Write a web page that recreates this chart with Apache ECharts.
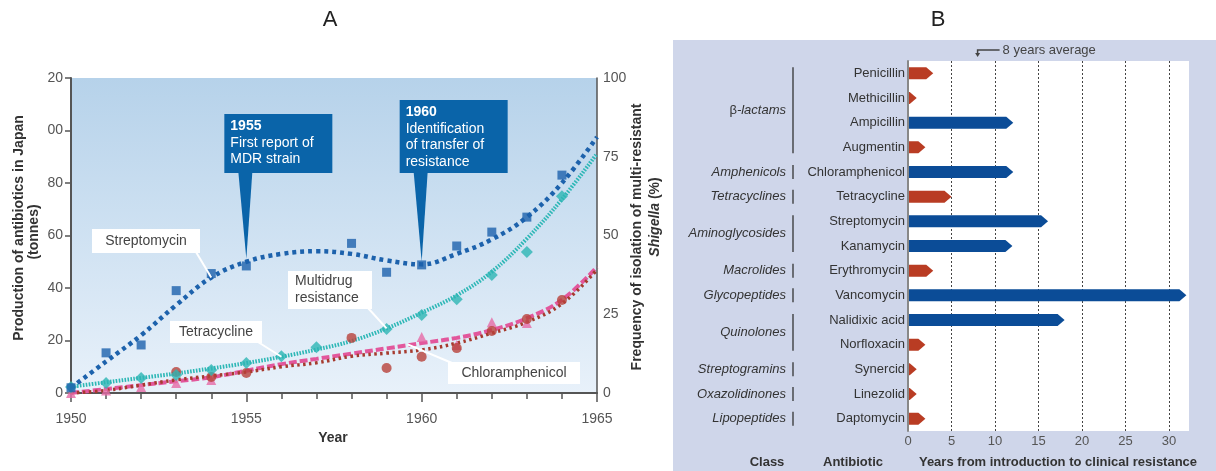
<!DOCTYPE html>
<html><head><meta charset="utf-8">
<script src="https://cdn.jsdelivr.net/npm/echarts@6/dist/echarts.min.js"></script>
<style>html,body{margin:0;padding:0;background:#fff}#c{width:1216px;height:471px}</style>
</head><body><div id="c"></div>
<script>
// ---------- Panel A data ----------
const years = [1950,1951,1952,1953,1954,1955,1956,1957,1958,1959,1960,1961,1962,1963,1964,1965];
const leftTickLabels = ['0','20','40','60','80','00','20'];
const rightTickLabels = ['0','25','50','75','100'];
// Streptomycin production (tonnes)
const strepPts = [2,15.3,18.3,39,45.5,48.4,null,null,57,46,48.8,56,61.3,67,83,null];
const strepFit = [2,12,22,33.5,44,50,53,54,53,50.5,49,53,58.5,67,80,97.5];
// Multidrug resistance (% of Shigella isolates)
const mdrPts = [1.9,3.2,4.8,5.7,7.3,9.5,11.7,14.5,null,20.3,24.8,29.8,37.5,44.8,62.5,null];
const mdrFit = [2,3.4,4.8,6.2,7.8,9.5,11.5,13.8,16.5,20.5,25.5,31,38.5,49,61.5,76];
// Tetracycline production (tonnes)
const tetraPts = [0,1,2.3,3.8,5,null,null,null,null,null,21.3,18.3,27,26.7,null,null];
const tetraFit = [0,1.5,3,4.5,6,8.5,11,13,15,17,19,21,24,28.5,35.5,48];
// Chloramphenicol production (tonnes)
const chlorPts = [null,null,null,8,6.1,7.6,null,null,21,9.5,13.8,17.1,23.6,28.2,35.4,null];
const chlorFit = [0,1,3,5,6.5,8,10,11.5,14,15.2,16.4,19,22.8,27,34,47];
const events = [{year:1955, head:'1955', lines:['First report of','MDR strain']},
                {year:1960, head:'1960', lines:['Identification','of transfer of','resistance']}];

// ---------- Panel B data ----------
const antibiotics = ['Penicillin','Methicillin','Ampicillin','Augmentin','Chloramphenicol','Tetracycline',
  'Streptomycin','Kanamycin','Erythromycin','Vancomycin','Nalidixic acid','Norfloxacin','Synercid','Linezolid','Daptomycin'];
const yearsToResistance = [2.9,1.0,12.1,2.0,12.1,5.0,16.1,12.0,2.9,32.0,18.0,2.0,1.0,1.0,2.0];
const classNames = ['β-lactams','Amphenicols','Tetracyclines','Aminoglycosides','Macrolides','Glycopeptides','Quinolones','Streptogramins','Oxazolidinones','Lipopeptides'];
const classFirst = [0,4,5,6,8,9,10,12,13,14];
const classLast  = [3,4,5,7,8,9,11,12,13,14];
const averageYears = 8;
const xTicksB = [0,5,10,15,20,25,30];

const FONT = '"Liberation Sans", Arial, Helvetica, sans-serif';
const pair = arr => years.map((y,i)=> arr[i]==null ? null : [y, arr[i]]).filter(Boolean);

const chart = echarts.init(document.getElementById('c'));

const option = {
  animation:false,
  textStyle:{fontFamily:FONT},
  grid:[
    {left:71, right:619, top:78, height:315, show:true, borderWidth:0,
     backgroundColor:{type:'linear',x:0,y:0,x2:0,y2:1,colorStops:[{offset:0,color:'#b6d2ea'},{offset:1,color:'#e8f1fa'}]}},
    {left:908, right:27, top:61, height:370, show:true, borderWidth:0, backgroundColor:'#ffffff'}
  ],
  xAxis:[
    {type:'value', gridIndex:0, min:1950, max:1965, interval:5,
     axisLine:{show:true, lineStyle:{color:'#555', width:2}},
     axisTick:{show:true, length:9, lineStyle:{color:'#555', width:1.5}},
     minorTick:{show:true, splitNumber:5, length:6, lineStyle:{color:'#555', width:1.5}},
     splitLine:{show:false},
     axisLabel:{fontSize:14, color:'#555', margin:19, fontFamily:FONT, formatter:v=>String(v)}},
    {type:'value', gridIndex:1, min:0, max:32.3, interval:5,
     axisLine:{show:false}, axisTick:{show:false},
     splitLine:{show:true, showMinLine:false, showMaxLine:false, lineStyle:{color:'#444', width:1, type:[2,2]}},
     axisLabel:{fontSize:13, color:'#555', margin:4, fontFamily:FONT,
       formatter: v => xTicksB.includes(v) ? String(v) : ''}}
  ],
  yAxis:[
    {type:'value', gridIndex:0, min:0, max:120, interval:20, position:'left',
     axisLine:{show:true, lineStyle:{color:'#555', width:2}},
     axisTick:{show:true, length:6, lineStyle:{color:'#555', width:1.5}},
     splitLine:{show:false},
     axisLabel:{fontSize:14, color:'#555', margin:8, fontFamily:FONT,
       formatter:(v)=> leftTickLabels[Math.round(v/20)]}},
    {type:'value', gridIndex:0, min:0, max:100, interval:25, position:'right',
     axisLine:{show:true, lineStyle:{color:'#555', width:1.5}},
     axisTick:{show:false},
     splitLine:{show:false},
     axisLabel:{fontSize:14, color:'#555', margin:6, fontFamily:FONT,
       formatter:(v)=> rightTickLabels[Math.round(v/25)]}},
    {type:'category', gridIndex:1, data:antibiotics, inverse:true,
     axisLine:{show:true, lineStyle:{color:'#888', width:2}},
     axisTick:{show:false}, splitLine:{show:false},
     axisLabel:{fontSize:13, color:'#333', margin:3, fontFamily:FONT}}
  ],
  series:[
    {type:'line', name:'Tetracycline fit', xAxisIndex:0, yAxisIndex:0, data:pair(tetraFit), smooth:0.4, symbol:'none',
     lineStyle:{color:'#e2579c', width:4, type:[8,3]}, z:2},
    {type:'line', name:'Chloramphenicol fit', xAxisIndex:0, yAxisIndex:0, data:pair(chlorFit), smooth:0.4, symbol:'none',
     lineStyle:{color:'#a63a2e', width:3.5, type:[2.5,3.5]}, z:3},
    {type:'line', name:'Multidrug fit', xAxisIndex:0, yAxisIndex:1, data:pair(mdrFit), smooth:0.4, symbol:'none',
     lineStyle:{color:'#2db7b6', width:4, type:[1.6,1.4]}, z:3},
    {type:'line', name:'Streptomycin fit', xAxisIndex:0, yAxisIndex:0, data:pair(strepFit), smooth:0.4, symbol:'none',
     lineStyle:{color:'#1d62ac', width:4.5, type:[4,4]}, z:3},
    {type:'scatter', name:'Tetracycline', xAxisIndex:0, yAxisIndex:0, data:pair(tetraPts), symbol:'triangle', symbolSize:10,
     itemStyle:{color:'#e66aa6'}, z:4},
    {type:'scatter', name:'Chloramphenicol', xAxisIndex:0, yAxisIndex:0, data:pair(chlorPts), symbol:'circle', symbolSize:10,
     itemStyle:{color:'#b8413a'}, z:4},
    {type:'scatter', name:'Multidrug resistance', xAxisIndex:0, yAxisIndex:1, data:pair(mdrPts), symbol:'diamond', symbolSize:12,
     itemStyle:{color:'#2db5b4'}, z:4},
    {type:'scatter', name:'Streptomycin', xAxisIndex:0, yAxisIndex:0, data:pair(strepPts), symbol:'rect', symbolSize:9,
     itemStyle:{color:'#1d62ac'}, z:4},
    {type:'custom', name:'Years to resistance', xAxisIndex:1, yAxisIndex:2,
     data: yearsToResistance.map((v,i)=>[i,v]), encode:{x:1, y:0},
     renderItem:(params, api)=>{
       const idx = api.value(0), v = api.value(1);
       const p0 = api.coord([0, idx]), p1 = api.coord([v, idx]);
       const h = 12, tip = Math.min(7, p1[0]-p0[0]), y = p0[1];
       return {type:'polygon', shape:{points:[[p0[0]+1,y-h/2],[p1[0]-tip,y-h/2],[p1[0],y],[p1[0]-tip,y+h/2],[p0[0]+1,y+h/2]]},
         style:{fill: v > averageYears ? '#0b4c97' : '#b93c23'}};
     }, z:3}
  ]
};
chart.setOption(option);

// ---------- annotations anchored to data through convertToPixel ----------
const g = [];
const txt = (x,y,text,o={}) => g.push({type:'text', x, y, silent:true, z:o.z||20, rotation:o.rot||0,
  style:Object.assign({text, font:o.font||('14px '+FONT), fill:o.fill||'#333', align:o.align||'left', verticalAlign:o.va||'middle'}, o.style||{})});
const rect = (x,y,w,h,fill,z) => g.push({type:'rect', silent:true, z:z||10, shape:{x,y,width:w,height:h}, style:{fill}});
const line = (x1,y1,x2,y2,stroke,w,z) => g.push({type:'line', silent:true, z:z||10, shape:{x1,y1,x2,y2}, style:{stroke, lineWidth:w}});
const poly = (pts,fill,z) => g.push({type:'polygon', silent:true, z:z||10, shape:{points:pts}, style:{fill}});
const pA = (yr,val,ax) => chart.convertToPixel({xAxisIndex:0, yAxisIndex:ax||0}, [yr,val]);

// panel B background
rect(673,40,543,431,'#cfd6ea',-5);

// titles
txt(330,20,'A',{font:'22px '+FONT, fill:'#222', align:'center'});
txt(938,20,'B',{font:'22px '+FONT, fill:'#222', align:'center'});

// axis titles panel A
txt(19,228,'Production of antibiotics in Japan',{font:'bold 14px '+FONT, align:'center', rot:Math.PI/2});
txt(34,232,'(tonnes)',{font:'bold 14px '+FONT, align:'center', rot:Math.PI/2});
txt(637,237,'Frequency of isolation of multi-resistant',{font:'bold 14px '+FONT, align:'center', rot:Math.PI/2});
g.push({type:'text', x:655, y:217, rotation:Math.PI/2, z:20, silent:true,
  style:{text:'{i|Shigella}{b| (%)}', align:'center', verticalAlign:'middle', fill:'#333',
    rich:{i:{font:'italic bold 14px '+FONT, fill:'#333'}, b:{font:'bold 14px '+FONT, fill:'#333'}}}});
txt(333,438,'Year',{font:'bold 14px '+FONT, align:'center'});

// event callouts
events.forEach((e,k)=>{
  const idx = years.indexOf(e.year);
  const p = pA(e.year, strepFit[idx]);
  const top = k===0 ? 114 : 100, bottom = 173, left = p[0]-22, w = 108;
  rect(left, top, w, bottom-top, '#0a64a9', 12);
  poly([[p[0]-8,bottom-1],[p[0]+6,bottom-1],[p[0],p[1]-3]], '#0a64a9', 12);
  txt(left+6, top+12, e.head, {font:'bold 14px '+FONT, fill:'#fff', z:21});
  e.lines.forEach((l,j)=> txt(left+6, top+29+j*16.5, l, {font:'14px '+FONT, fill:'#fff', z:21}));
});

// series labels (white boxes with pointer lines)
function label(x,y,w,h,lines,anchor,from){
  rect(x,y,w,h,'#ffffff',12);
  line(from[0],from[1],anchor[0],anchor[1],'#ffffff',2,12);
  lines.forEach((l,j)=> txt(x+ (lines.length>1?7:w/2), y + h/2 + (j-(lines.length-1)/2)*17, l,
    {font:'14px '+FONT, fill:'#444', align: lines.length>1?'left':'center', z:21}));
}
label(92,229,108,24,['Streptomycin'], pA(1954, strepFit[4]), [196,252]);
label(170,321,92,22,['Tetracycline'], pA(1956, mdrFit[6],1), [258,342]);
label(288,271,84,38,['Multidrug','resistance'], pA(1959, mdrFit[9],1), [368,308]);
label(448,362,132,22,['Chloramphenicol'], pA(1959.6, tetraFit[10]-0.5), [452,363]);

// panel B class labels
const rowY = i => chart.convertToPixel({yAxisIndex:2}, antibiotics[i]);
classNames.forEach((n,k)=>{
  const y1 = rowY(classFirst[k]), y2 = rowY(classLast[k]);
  const yc = (y1+y2)/2;
  if (n.startsWith('β')) {
    g.push({type:'text', x:786, y:yc, z:20, silent:true, style:{text:'{n|β}{i|-lactams}', align:'right', verticalAlign:'middle', fill:'#333',
      rich:{n:{font:'13px '+FONT, fill:'#333'}, i:{font:'italic 13px '+FONT, fill:'#333'}}}});
  } else {
    txt(786, yc, n, {font:'italic 13px '+FONT, align:'right'});
  }
  if (classFirst[k]===classLast[k]) line(793, yc-7, 793, yc+7, '#333', 1.3, 20);
  else line(793, y1-6, 793, y2+6, '#333', 1.3, 20);
});
txt(767,462,'Class',{font:'bold 13px '+FONT, align:'center'});
txt(853,462,'Antibiotic',{font:'bold 13px '+FONT, align:'center'});
txt(1058,462,'Years from introduction to clinical resistance',{font:'bold 13px '+FONT, align:'center'});

// 8 years average marker
const ax8 = chart.convertToPixel({xAxisIndex:1}, averageYears);
g.push({type:'polyline', silent:true, z:20, shape:{points:[[ax8+22,50],[ax8,50],[ax8,54]]}, style:{stroke:'#444', lineWidth:1.5, fill:null}});
poly([[ax8-2.5,53],[ax8+2.5,53],[ax8,57]], '#444', 20);
txt(ax8+25, 50, '8 years average', {font:'13px '+FONT, fill:'#444'});

chart.setOption({graphic: g});
</script>
</body></html>
